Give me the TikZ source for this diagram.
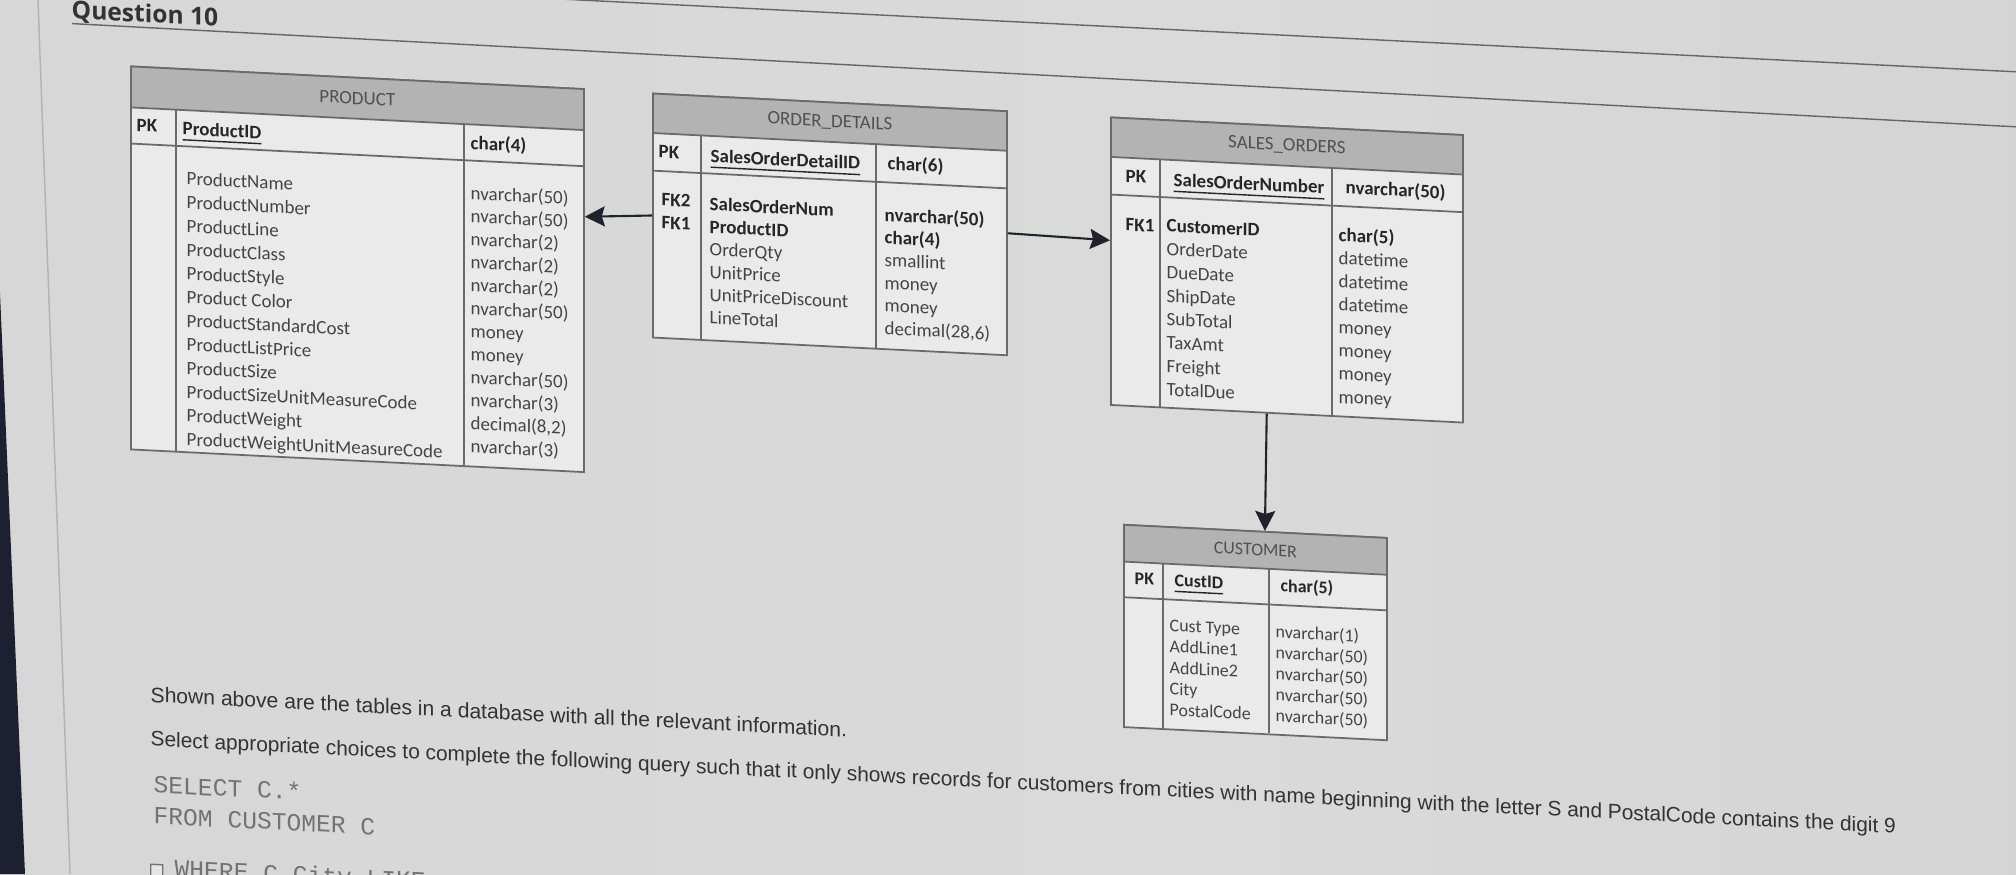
\documentclass[tikz,border=0pt]{standalone}
\usepackage{fontspec}
\setmainfont{Carlito}
\newfontfamily\notefont{Liberation Sans}
\newfontfamily\codefont{Liberation Mono}
\newfontfamily\titlefont{Open Sans}
\usetikzlibrary{arrows.meta, calc}
\definecolor{bgleft}{HTML}{D4D4D4}
\definecolor{bgmid}{HTML}{DADADA}
\definecolor{bgright}{HTML}{A8A8A8}
\definecolor{bodygray}{HTML}{EAEAEA}
\definecolor{headgray}{HTML}{B3B3B3}
\definecolor{gridgray}{HTML}{6A6A6A}
\definecolor{attrgray}{HTML}{454545}
\definecolor{keygray}{HTML}{262626}
\definecolor{headtxt}{HTML}{505050}
\definecolor{arrowcol}{HTML}{20232E}
\definecolor{bezel}{HTML}{1C2030}
\pgfdeclarehorizontalshading{screen}{100bp}{color(0bp)=(bgleft); color(55bp)=(bgmid); color(82bp)=(bgmid!85!bgright); color(100bp)=(bgright)}
\tikzset{
    tablebody/.style = {draw=gridgray, fill=bodygray, line width=0.5pt, anchor=north west, inner sep=0pt},
    tablehead/.style = {draw=gridgray, fill=headgray, line width=0.5pt, anchor=north west, inner sep=0pt, font=\fontsize{5.4}{6}\selectfont, text=headtxt},
    grid/.style = {draw=gridgray, line width=0.5pt},
    attr/.style = {anchor=west, inner sep=0pt, text height=3.8pt, text depth=1.2pt, font=\fontsize{5.4}{6}\selectfont, text=attrgray},
    keyattr/.style = {attr, font=\fontsize{5.4}{6}\selectfont\bfseries, text=keygray},
    custattr/.style = {attr, font=\fontsize{5.1}{6}\selectfont},
    custkey/.style = {keyattr, font=\fontsize{5.1}{6}\selectfont\bfseries},
    fk/.style = {draw=arrowcol, line width=0.6pt, -{Stealth[length=2mm, width=2mm, inset=0.3mm]}},
    note/.style = {anchor=west, inner sep=0pt, font=\notefont\fontsize{6}{7}\selectfont, text=black!80},
    code/.style = {anchor=west, inner sep=0pt, text height=4.2pt, text depth=1.3pt, font=\codefont\fontsize{7}{8}\selectfont, text=black!55},
    rule/.style = {draw=black!60, line width=0.4pt}
}
\begin{document}
\begin{tikzpicture}
\useasboundingbox (0,0) rectangle (20.16,-8.74);
\clip (0,0) rectangle (20.16,-8.74);
\shade[shading=screen] (0,0) rectangle (20.16,-8.74);
% screen edge
\draw[draw=black!30, line width=0.4pt] (0.38,0) -- (0.70,-8.74);
\fill[bezel] (0,-2.93) -- (0.25,-8.74) -- (0,-8.74) -- cycle;

\begin{scope}[yslant=-0.05, transform shape]
% question header
\draw[rule] (0,0.29) -- (21,0.29);
\draw[rule] (0.72,-0.20) -- (20.16,-0.26);
\node[anchor=west, inner sep=0pt, font=\titlefont\bfseries\fontsize{7}{8}\selectfont, text=black!80] (qtitle) at (0.71,-0.08) {Question 10};

% PRODUCT
\node[tablebody, minimum width=4.53cm, minimum height=3.83cm] (product) at (1.30,-0.59) {};
\node[tablehead, minimum width=4.53cm, minimum height=0.41cm] (product-head) at (1.30,-0.59) {PRODUCT};
\draw[grid] (1.30,-1.37) -- (5.83,-1.37);
\draw[grid] (1.76,-1.00) -- (1.76,-4.42);
\draw[grid] (4.64,-1.00) -- (4.64,-4.42);
\node[keyattr] (product-pk) at (1.36,-1.20) {PK};
\node[keyattr] (product-id) at (1.82,-1.21) {\underline{ProductID}};
\node[keyattr] (product-idtype) at (4.70,-1.21) {char(4)};
\foreach \attr [count=\i from 0] in {ProductName, ProductNumber, ProductLine, ProductClass, ProductStyle, Product Color, ProductStandardCost, ProductListPrice, ProductSize, ProductSizeUnitMeasureCode, ProductWeight, ProductWeightUnitMeasureCode}
    \node[attr] (product-a\i) at (1.86,{-1.71-0.237*\i}) {\attr};
\foreach \type [count=\i from 0] in {nvarchar(50), nvarchar(50), nvarchar(2), nvarchar(2), nvarchar(2), nvarchar(50), money, money, nvarchar(50), nvarchar(3), {decimal(8,2)}, nvarchar(3)}
    \node[attr] (product-t\i) at (4.70,{-1.714-0.230*\i}) {\type};

% ORDER_DETAILS
\node[tablebody, minimum width=3.54cm, minimum height=2.44cm] (orderdet) at (6.52,-0.60) {};
\node[tablehead, minimum width=3.54cm, minimum height=0.395cm] (orderdet-head) at (6.52,-0.60) {ORDER\_DETAILS};
\draw[grid] (6.52,-1.38) -- (10.06,-1.38);
\draw[grid] (7.01,-0.995) -- (7.01,-3.04);
\draw[grid] (8.76,-0.995) -- (8.76,-3.04);
\node[keyattr] (orderdet-pk) at (6.58,-1.20) {PK};
\node[keyattr] (orderdet-id) at (7.10,-1.22) {\underline{SalesOrderDetailID}};
\node[keyattr] (orderdet-idtype) at (8.87,-1.21) {char(6)};
\node[keyattr] (orderdet-fk2) at (6.61,-1.68) {FK2};
\node[keyattr] (orderdet-fk1) at (6.61,-1.91) {FK1};
\node[keyattr] (orderdet-a0) at (7.09,-1.703) {SalesOrderNum};
\node[keyattr] (orderdet-a1) at (7.09,-1.930) {ProductID};
\foreach \attr [count=\i from 2] in {OrderQty, UnitPrice, UnitPriceDiscount, LineTotal}
    \node[attr] (orderdet-a\i) at (7.09,{-1.703-0.227*\i}) {\attr};
\node[keyattr] (orderdet-t0) at (8.84,-1.723) {nvarchar(50)};
\node[keyattr] (orderdet-t1) at (8.84,-1.950) {char(4)};
\foreach \type [count=\i from 2] in {smallint, money, money, {decimal(28,6)}}
    \node[attr] (orderdet-t\i) at (8.84,{-1.723-0.227*\i}) {\type};

% SALES_ORDERS
\node[tablebody, minimum width=3.52cm, minimum height=2.875cm] (salesord) at (11.10,-0.61) {};
\node[tablehead, minimum width=3.52cm, minimum height=0.395cm] (salesord-head) at (11.10,-0.61) {SALES\_ORDERS};
\draw[grid] (11.10,-1.39) -- (14.62,-1.39);
\draw[grid] (11.60,-1.005) -- (11.60,-3.485);
\draw[grid] (13.32,-1.005) -- (13.32,-3.485);
\node[keyattr] (salesord-pk) at (11.25,-1.216) {PK};
\node[keyattr] (salesord-id) at (11.73,-1.23) {\underline{SalesOrderNumber}};
\node[keyattr] (salesord-idtype) at (13.45,-1.22) {nvarchar(50)};
\node[keyattr] (salesord-fk1) at (11.25,-1.70) {FK1};
\node[keyattr] (salesord-a0) at (11.66,-1.69) {CustomerID};
\foreach \attr [count=\i from 1] in {OrderDate, DueDate, ShipDate, SubTotal, TaxAmt, Freight, TotalDue}
    \node[attr] (salesord-a\i) at (11.66,{-1.69-0.234*\i}) {\attr};
\node[keyattr] (salesord-t0) at (13.38,-1.698) {char(5)};
\foreach \type [count=\i from 1] in {datetime, datetime, datetime, money, money, money, money}
    \node[attr] (salesord-t\i) at (13.38,{-1.698-0.231*\i}) {\type};

% CUSTOMER
\node[tablebody, minimum width=2.63cm, minimum height=2.023cm] (customer) at (11.23,-4.677) {};
\node[tablehead, minimum width=2.63cm, minimum height=0.368cm, font=\fontsize{5.1}{6}\selectfont] (customer-head) at (11.23,-4.677) {CUSTOMER};
\draw[grid] (11.23,-5.41) -- (13.86,-5.41);
\draw[grid] (11.63,-5.045) -- (11.63,-6.70);
\draw[grid] (12.69,-5.045) -- (12.69,-6.70);
\node[custkey] (customer-pk) at (11.34,-5.23) {PK};
\node[custkey] (customer-id) at (11.74,-5.23) {\underline{CustID}};
\node[custkey] (customer-idtype) at (12.80,-5.23) {char(5)};
\foreach \attr [count=\i from 0] in {Cust Type, AddLine1, AddLine2, City, PostalCode}
    \node[custattr] (customer-a\i) at (11.69,{-5.683-0.211*\i}) {\attr};
\foreach \type [count=\i from 0] in {nvarchar(1), nvarchar(50), nvarchar(50), nvarchar(50), nvarchar(50)}
    \node[custattr] (customer-t\i) at (12.75,{-5.695-0.21*\i}) {\type};

% relationships
\draw[fk] (orderdet.west) -- ($(product.north east)!0.334!(product.south east)$);
\draw[fk] (orderdet.east) -- ($(salesord.north west)!0.428!(salesord.south west)$);
\draw[fk] ($(salesord.south west)!0.443!(salesord.south east)$) -- ($(customer.north west)!0.536!(customer.north east)$);

% question text
\node[note] (intro) at (1.50,-6.87) {Shown above are the tables in a database with all the relevant information.};
\node[note, font=\notefont\fontsize{5.94}{7}\selectfont] (task) at (1.50,-7.33) {Select appropriate choices to complete the following query such that it only shows records for customers from cities with name beginning with the letter S and PostalCode contains the digit 9};
\node[code] (select) at (1.53,-7.80) {SELECT C.*};
\node[code] (from) at (1.53,-8.11) {FROM CUSTOMER C};
\node[draw=black!55, line width=0.4pt, fill=white!90!black, minimum size=0.12cm, inner sep=0pt, anchor=north west] (option1) at (1.50,-8.56) {};
\node[code] (where) at (1.74,-8.63) {WHERE C.City LIKE};
\end{scope}
\end{tikzpicture}
\end{document}
